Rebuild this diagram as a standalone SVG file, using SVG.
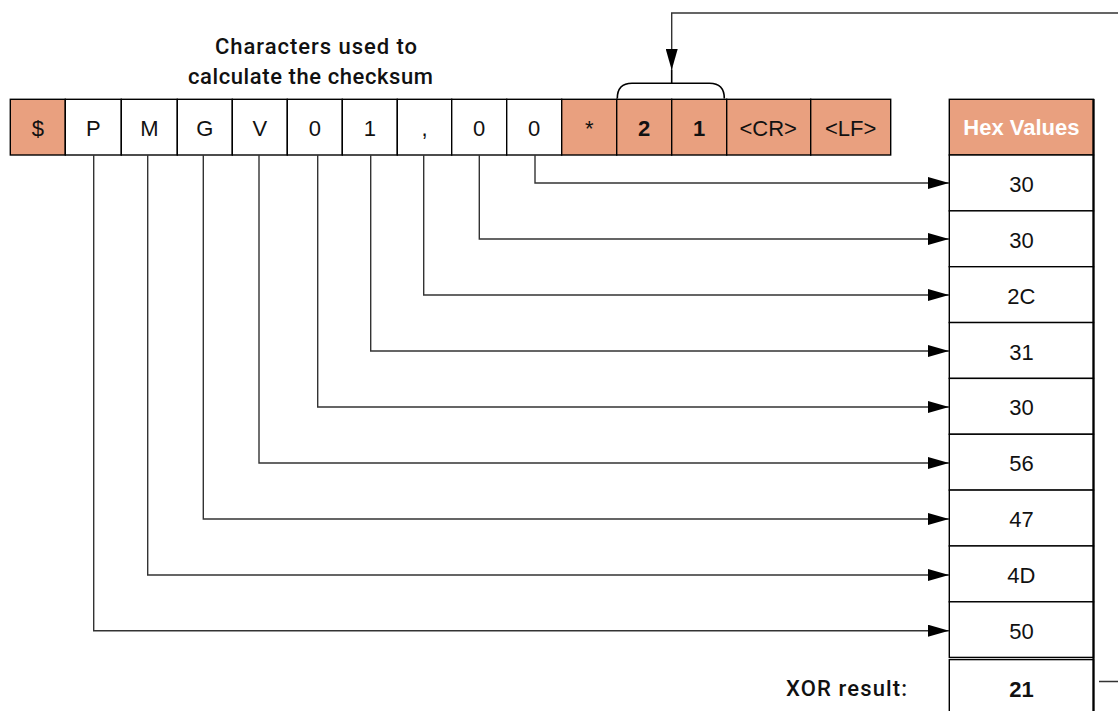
<svg xmlns="http://www.w3.org/2000/svg" width="1118" height="711" viewBox="0 0 1118 711">
<style>
.cell{stroke:#000;stroke-width:1.4}
.o{fill:#E9A07F}
.w{fill:#fff}
.t{font-family:"Liberation Sans",Arial,sans-serif;font-size:22px;fill:#111;text-anchor:middle}
.b{font-weight:bold}
.h{font-family:"Liberation Sans",Arial,sans-serif;font-size:22px;font-weight:bold;fill:#fff;text-anchor:middle}
.lbl{font-family:Roboto,"DejaVu Sans",sans-serif;font-size:22px;font-weight:500;fill:#111}
.c{fill:none;stroke:#333;stroke-width:1.4}
</style>
<defs>
<marker id="ah" markerUnits="userSpaceOnUse" markerWidth="21" markerHeight="12" refX="21" refY="6" orient="auto">
<path d="M0,0 L21,6 L0,12 Z" fill="#000"/>
</marker>
</defs>
<rect width="1118" height="711" fill="#fff"/>

<g id="title">
<text class="lbl" x="215" y="54" textLength="202" lengthAdjust="spacing">Characters used to</text>
<text class="lbl" x="188" y="84" textLength="245" lengthAdjust="spacing">calculate the checksum</text>
</g>

<g id="sentence">
<g id="c-dollar"><rect class="cell o" x="10.3" y="99.3" width="55" height="55.7"/><text class="t" x="37.8" y="135.5">$</text></g>
<g id="c-P"><rect class="cell w" x="65.3" y="99.3" width="56" height="55.7"/><text class="t" x="93.3" y="135.5">P</text></g>
<g id="c-M"><rect class="cell w" x="121.3" y="99.3" width="56" height="55.7"/><text class="t" x="149.3" y="135.5">M</text></g>
<g id="c-G"><rect class="cell w" x="177.3" y="99.3" width="55" height="55.7"/><text class="t" x="204.8" y="135.5">G</text></g>
<g id="c-V"><rect class="cell w" x="232.3" y="99.3" width="55" height="55.7"/><text class="t" x="259.8" y="135.5">V</text></g>
<g id="c-0a"><rect class="cell w" x="287.3" y="99.3" width="55" height="55.7"/><text class="t" x="314.8" y="135.5">0</text></g>
<g id="c-1"><rect class="cell w" x="342.3" y="99.3" width="55" height="55.7"/><text class="t" x="369.8" y="135.5">1</text></g>
<g id="c-comma"><rect class="cell w" x="397.3" y="99.3" width="54.4" height="55.7"/><text class="t" x="424.5" y="135.5">,</text></g>
<g id="c-0b"><rect class="cell w" x="451.7" y="99.3" width="55" height="55.7"/><text class="t" x="479.2" y="135.5">0</text></g>
<g id="c-0c"><rect class="cell w" x="506.7" y="99.3" width="55" height="55.7"/><text class="t" x="534.2" y="135.5">0</text></g>
<g id="c-star"><rect class="cell o" x="561.7" y="99.3" width="55" height="55.7"/><text class="t" x="589.2" y="135.5">*</text></g>
<g id="c-2"><rect class="cell o" x="616.7" y="99.3" width="55" height="55.7"/><text class="t b" x="644.2" y="135.5">2</text></g>
<g id="c-1b"><rect class="cell o" x="671.7" y="99.3" width="55" height="55.7"/><text class="t b" x="699.2" y="135.5">1</text></g>
<g id="c-CR"><rect class="cell o" x="726.7" y="99.3" width="84" height="55.7"/><text class="t" x="768.2" y="135.5">&lt;CR&gt;</text></g>
<g id="c-LF"><rect class="cell o" x="810.7" y="99.3" width="80" height="55.7"/><text class="t" x="850.7" y="135.5">&lt;LF&gt;</text></g>
</g>

<g id="hex">
<g id="h-head"><rect class="cell o" x="949.3" y="99.3" width="144.2" height="55.7"/><text class="h" x="1021.4" y="135">Hex Values</text></g>
<g id="h-1"><rect class="cell w" x="949.3" y="155" width="144.2" height="55.85"/><text class="t" x="1021.4" y="192">30</text></g>
<g id="h-2"><rect class="cell w" x="949.3" y="210.85" width="144.2" height="55.85"/><text class="t" x="1021.4" y="247.8">30</text></g>
<g id="h-3"><rect class="cell w" x="949.3" y="266.7" width="144.2" height="55.85"/><text class="t" x="1021.4" y="303.6">2C</text></g>
<g id="h-4"><rect class="cell w" x="949.3" y="322.55" width="144.2" height="55.85"/><text class="t" x="1021.4" y="359.5">31</text></g>
<g id="h-5"><rect class="cell w" x="949.3" y="378.4" width="144.2" height="55.85"/><text class="t" x="1021.4" y="415.3">30</text></g>
<g id="h-6"><rect class="cell w" x="949.3" y="434.25" width="144.2" height="55.85"/><text class="t" x="1021.4" y="471.2">56</text></g>
<g id="h-7"><rect class="cell w" x="949.3" y="490.1" width="144.2" height="55.85"/><text class="t" x="1021.4" y="527">47</text></g>
<g id="h-8"><rect class="cell w" x="949.3" y="545.95" width="144.2" height="55.85"/><text class="t" x="1021.4" y="582.9">4D</text></g>
<g id="h-9"><rect class="cell w" x="949.3" y="601.8" width="144.2" height="55.6"/><text class="t" x="1021.4" y="638.7">50</text></g>
<g id="h-xor"><rect class="cell w" x="949.3" y="659.6" width="144.2" height="70"/><text class="t b" x="1021.4" y="696.5">21</text></g>
<line x1="1093.5" y1="99" x2="1093.5" y2="711" stroke="#000" stroke-width="2.2"/>
</g>

<g id="xor-label">
<text class="lbl" x="786" y="696" textLength="121" lengthAdjust="spacing">XOR result:</text>
</g>

<g id="brace">
<path d="M617.3,98.5 Q617.3,83.3 632,83.3 H709.5 Q724.3,83.3 724.3,98.5" fill="none" stroke="#000" stroke-width="1.6"/>
</g>

<g id="connectors">
<path class="c" marker-end="url(#ah)" d="M535,155 V183 H949"/>
<path class="c" marker-end="url(#ah)" d="M479.3,155 V239 H949"/>
<path class="c" marker-end="url(#ah)" d="M423.7,155 V295 H949"/>
<path class="c" marker-end="url(#ah)" d="M370.7,155 V351 H949"/>
<path class="c" marker-end="url(#ah)" d="M317.7,155 V407 H949"/>
<path class="c" marker-end="url(#ah)" d="M259,155 V463 H949"/>
<path class="c" marker-end="url(#ah)" d="M203.3,155 V519 H949"/>
<path class="c" marker-end="url(#ah)" d="M147.7,155 V575 H949"/>
<path class="c" marker-end="url(#ah)" d="M93.7,155 V630.7 H949"/>
<path class="c" marker-end="url(#ah)" d="M1099,681.5 H1140 V13 H671.7 V70"/>
<line x1="671.7" y1="70" x2="671.7" y2="83.3" stroke="#000" stroke-width="1.6"/>
</g>
</svg>
